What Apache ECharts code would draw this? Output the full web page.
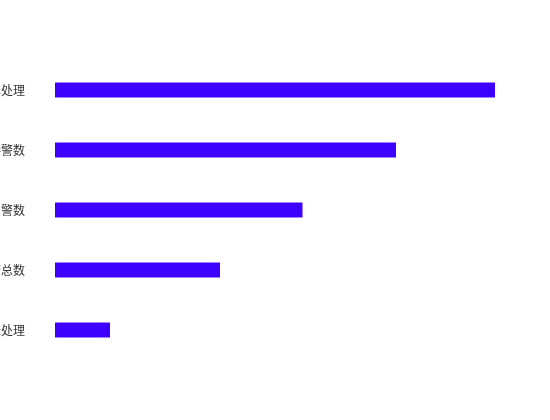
<!DOCTYPE html>
<html>
<head>
<meta charset="utf-8">
<script src="https://cdn.jsdelivr.net/npm/echarts@6/dist/echarts.min.js"></script>
<style>
html,body{margin:0;padding:0;background:#fff;}
#main{width:550px;height:420px;}
</style>
</head>
<body>
<div id="main"></div>
<script>
var categories = ["未处理", "报警总数", "出警数", "接警数", "已处理"];
var values = [100, 300, 450, 620, 800];

var chart = echarts.init(document.getElementById('main'));
chart.setOption({
  animation: false,
  grid: { left: 55, right: 55, top: 60, bottom: 60, containLabel: false, outerBoundsMode: 'none' },
  xAxis: {
    type: 'value',
    max: 800,
    show: false
  },
  yAxis: {
    type: 'category',
    data: categories,
    axisLine: { show: false },
    axisTick: { show: false },
    splitLine: { show: false },
    axisLabel: {
      margin: 30,
      fontSize: 12,
      color: '#333',
      fontFamily: 'Noto Sans CJK SC'
    }
  },
  series: [{
    type: 'bar',
    data: values,
    barWidth: 15,
    itemStyle: { color: '#3d00ff' }
  }]
});
</script>
</body>
</html>
